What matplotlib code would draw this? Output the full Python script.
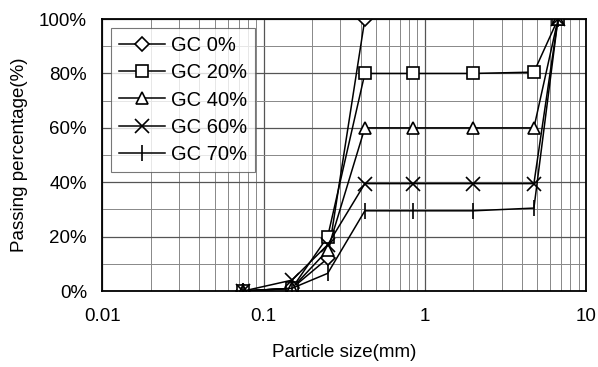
import matplotlib
matplotlib.use("Agg")
import matplotlib.pyplot as plt
from matplotlib.ticker import FixedLocator, FuncFormatter, LogLocator, NullFormatter

plt.rcParams['font.family'] = ['Liberation Sans', 'DejaVu Sans']

sizes_full = [0.075, 0.15, 0.25, 0.425, 0.85, 2.0, 4.75, 6.7]
sizes_gc0 = [0.075, 0.15, 0.25, 0.425]
gc0 = [0, 1, 12, 100]
gc20 = [0, 1, 20, 80, 80, 80, 80.5, 100]
gc40 = [0, 1, 15, 60, 60, 60, 60, 100]
gc60 = [0, 4, 17, 39.5, 39.5, 39.5, 39.5, 100]
gc70 = [0, 1, 6.5, 29.5, 29.5, 29.5, 30.5, 100]
labels = ["GC 0%", "GC 20%", "GC 40%", "GC 60%", "GC 70%"]
y_ticks = [0, 20, 40, 60, 80, 100]
x_ticks = [0.01, 0.1, 1, 10]

fig = plt.figure(figsize=(5.98, 3.67), dpi=100)
ax = fig.add_axes([0.171, 0.207, 0.809, 0.741])

kw = dict(color='black', lw=1.1, mfc='white', mec='black', mew=1.2)
ax.plot(sizes_gc0, gc0, marker='D', ms=7, label=labels[0], **kw)
ax.plot(sizes_full, gc20, marker='s', ms=9, label=labels[1], **kw)
ax.plot(sizes_full, gc40, marker='^', ms=9, label=labels[2], **kw)
ax.plot(sizes_full, gc60, marker='x', ms=10, label=labels[3], **kw)
ax.plot(sizes_full, gc70, marker='|', ms=11, label=labels[4], **kw)

ax.set_xscale('log')
ax.set_xlim(0.01, 10)
ax.set_ylim(0, 100)
ax.xaxis.set_major_locator(FixedLocator(x_ticks))
ax.xaxis.set_major_formatter(FuncFormatter(lambda v, p: f"{v:g}"))
ax.xaxis.set_minor_locator(LogLocator(base=10, subs=range(2, 10)))
ax.xaxis.set_minor_formatter(NullFormatter())
ax.yaxis.set_major_locator(FixedLocator(y_ticks))
ax.yaxis.set_minor_locator(FixedLocator([10, 30, 50, 70, 90]))
ax.yaxis.set_major_formatter(FuncFormatter(lambda v, p: f"{v:g}%"))

ax.grid(True, which='major', color='#555555', lw=0.9)
ax.grid(True, which='minor', color='#888888', lw=0.7)
ax.set_axisbelow(True)
ax.tick_params(which='both', length=0, labelsize=13.5)
ax.tick_params(axis='x', pad=12)
ax.tick_params(axis='y', pad=11)
for s in ax.spines.values():
    s.set_linewidth(1.3)
    s.set_color('black')

ax.set_xlabel("Particle size(mm)", fontsize=13.5, labelpad=14)
ax.set_ylabel("Passing percentage(%)", fontsize=13.5, labelpad=8)

leg = ax.legend(loc='upper left', bbox_to_anchor=(0.0, 1.0), fontsize=14.5, frameon=True,
                fancybox=False, edgecolor='#555555', handlelength=2.3,
                borderpad=0.4, labelspacing=0.42, handletextpad=0.3, borderaxespad=0.42)
leg.get_frame().set_linewidth(0.8)

fig.savefig("out.png", dpi=100)
